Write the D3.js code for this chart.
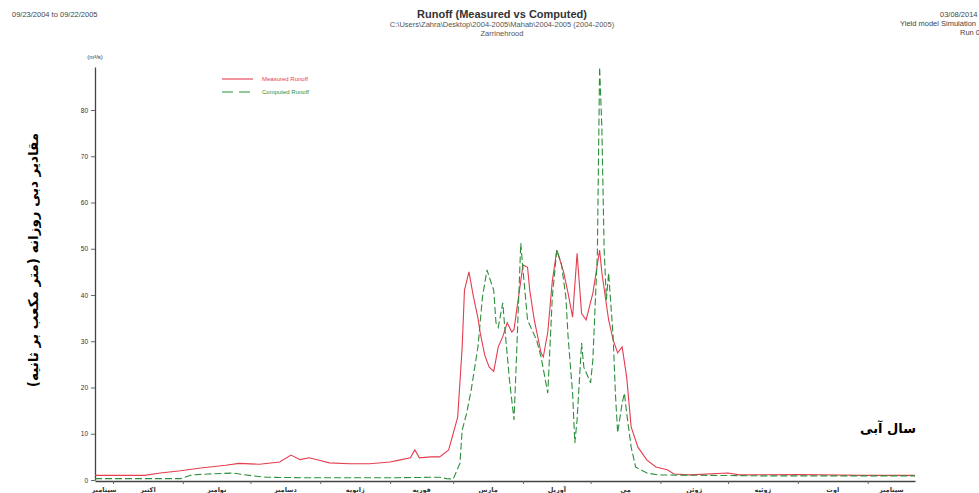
<!DOCTYPE html>
<html>
<head>
<meta charset="utf-8">
<script src="https://cdn.jsdelivr.net/npm/d3@7"></script>
<style>
  body { margin: 0; background: #fff; overflow: hidden; }
  text { font-family: "Liberation Sans", Arial, sans-serif; }
  .fa { font-family: "DejaVu Sans", sans-serif; }
</style>
</head>
<body>
<div id="chart"></div>
<script>
// measured runoff (m3/s)
const measuredDates = ["2004-09-23","2004-10-15","2004-10-22","2004-10-31","2004-11-09","2004-11-20","2004-11-26","2004-12-05","2004-12-14","2004-12-19","2004-12-23","2004-12-27","2005-01-01","2005-01-05","2005-01-14","2005-01-23","2005-02-01","2005-02-05","2005-02-10","2005-02-12","2005-02-14","2005-02-19","2005-02-23","2005-02-27","2005-03-03","2005-03-05","2005-03-06","2005-03-08","2005-03-10","2005-03-12","2005-03-13","2005-03-15","2005-03-17","2005-03-19","2005-03-21","2005-03-23","2005-03-25","2005-03-27","2005-03-28","2005-03-30","2005-04-01","2005-04-03","2005-04-04","2005-04-06","2005-04-09","2005-04-10","2005-04-12","2005-04-14","2005-04-16","2005-04-19","2005-04-21","2005-04-23","2005-04-25","2005-04-27","2005-04-29","2005-05-02","2005-05-05","2005-05-06","2005-05-09","2005-05-11","2005-05-13","2005-05-15","2005-05-17","2005-05-19","2005-05-22","2005-05-26","2005-05-30","2005-06-04","2005-06-07","2005-06-14","2005-07-01","2005-07-06","2005-08-02","2005-08-29","2005-09-22"];
const measuredFlow = [1.0,1.0,1.5,2.0,2.6,3.2,3.6,3.4,3.9,5.4,4.4,4.8,4.2,3.7,3.5,3.5,3.9,4.3,4.8,6.5,4.8,5.0,5.0,6.5,13.6,28.8,41,45,39.6,35,31.8,27,24.4,23.5,28.8,31,34,32,32.5,39.6,46.5,46,41,34.6,27.5,26.6,32,43,49.7,45,40.4,35.2,49,36,34.6,40.4,49.7,44.8,34.6,30.3,27.5,28.8,22.3,11.5,7.1,4.3,2.8,2.2,1.3,1.1,1.5,1.1,1.2,1.0,1.0];

// computed runoff (m3/s)
const computedDates = ["2004-09-23","2004-10-31","2004-11-05","2004-11-12","2004-11-23","2004-12-02","2004-12-08","2004-12-23","2005-02-05","2005-02-23","2005-02-26","2005-03-01","2005-03-04","2005-03-05","2005-03-07","2005-03-09","2005-03-12","2005-03-14","2005-03-16","2005-03-19","2005-03-20","2005-03-21","2005-03-23","2005-03-24","2005-03-26","2005-03-28","2005-03-29","2005-03-31","2005-04-01","2005-04-03","2005-04-05","2005-04-07","2005-04-09","2005-04-12","2005-04-14","2005-04-16","2005-04-18","2005-04-20","2005-04-21","2005-04-23","2005-04-24","2005-04-25","2005-04-27","2005-04-28","2005-05-01","2005-05-02","2005-05-04","2005-05-05","2005-05-06","2005-05-07","2005-05-08","2005-05-09","2005-05-11","2005-05-12","2005-05-13","2005-05-15","2005-05-16","2005-05-17","2005-05-19","2005-05-21","2005-05-26","2005-05-31","2005-07-15","2005-09-22"];
const computedFlow = [0.3,0.3,1.1,1.3,1.5,0.9,0.6,0.5,0.5,0.6,0.3,0.2,3.6,10.8,14.5,19.5,28.8,39.6,45.4,41,34,33,38.3,32.4,21.6,13,25.3,51.2,45.4,34.6,32.4,30.3,26.6,18.8,39.6,49.7,46.9,39.6,31,18.8,8,13,29.6,24.4,21,26,49,89.3,76,50,39,44.8,31,18.8,10.2,16.6,18.8,14.5,7.1,2.8,1.5,1.1,0.9,0.9];

const monthStarts = ["2004-10-01","2004-11-01","2004-12-01","2005-01-01","2005-02-01","2005-03-01","2005-04-01","2005-05-01","2005-06-01","2005-07-01","2005-08-01","2005-09-01"];
const monthLabels = ["سپتامبر","اکتبر","نوامبر","دسامبر","ژانویه","فوریه","مارس","آوریل","می","ژوئن","ژوئیه","اوت","سپتامبر"];
const yTicks = [0,10,20,30,40,50,60,70,80];

const width = 979, height = 493;
const parseDate = d3.timeParse("%Y-%m-%d");
const start = parseDate("2004-09-23"), end = parseDate("2005-09-22");

const svg = d3.select("#chart").append("svg")
    .attr("width", width).attr("height", height);

const x = d3.scaleTime().domain([start, end]).range([95, 915]);
const y = d3.scaleLinear().domain([0, 89.3]).range([480, 67]);

// header texts
svg.append("text").attr("x", 12).attr("y", 17).text("09/23/2004 to 09/22/2005")
    .style("font-size", "7.5px").attr("fill", "#444");
svg.append("text").attr("x", 502).attr("y", 18).attr("text-anchor", "middle")
    .text("Runoff (Measured vs Computed)").style("font-size", "11px").style("font-weight", "bold").attr("fill", "#333");
svg.append("text").attr("x", 502).attr("y", 27).attr("text-anchor", "middle")
    .text("C:\\Users\\Zahra\\Desktop\\2004-2005\\Mahab\\2004-2005 (2004-2005)").style("font-size", "7.5px").attr("fill", "#555");
svg.append("text").attr("x", 502).attr("y", 36).attr("text-anchor", "middle")
    .text("Zarrinehrood").style("font-size", "7.5px").attr("fill", "#555");
svg.append("text").attr("x", 940).attr("y", 17).text("03/08/2014")
    .style("font-size", "7.5px").attr("fill", "#444");
svg.append("text").attr("x", 900).attr("y", 26).text("Yield model Simulation")
    .style("font-size", "7.5px").attr("fill", "#444");
svg.append("text").attr("x", 960).attr("y", 35).text("Run 0")
    .style("font-size", "7.5px").attr("fill", "#444");

// axes
const yAxis = svg.append("g")
    .attr("transform", "translate(95,0)")
    .call(d3.axisLeft(y).tickValues(yTicks).tickSize(4).tickSizeOuter(0));
yAxis.select(".domain").attr("stroke", "#444").attr("stroke-width", 1.3);
yAxis.selectAll(".tick line").attr("stroke", "#666");
yAxis.selectAll(".tick text").style("font-size", "6.5px").attr("fill", "#333");

const xAxis = svg.append("g")
    .attr("transform", "translate(0,481)")
    .call(d3.axisBottom(x).tickValues(monthStarts.map(parseDate)).tickFormat("").tickSize(3).tickSizeOuter(0));
xAxis.select(".domain").attr("stroke", "#444").attr("stroke-width", 1.3);
xAxis.selectAll(".tick line").attr("stroke", "#666");

svg.append("text").attr("x", 95).attr("y", 59).attr("text-anchor", "middle")
    .text("(m³/s)").style("font-size", "6px").attr("fill", "#333");

// month labels centred in each month
const bounds = [start].concat(monthStarts.map(parseDate), [end]);
monthLabels.forEach((m, i) => {
    const mid = new Date((bounds[i].getTime() + bounds[i + 1].getTime()) / 2);
    svg.append("text").attr("class", "fa")
        .attr("x", x(mid)).attr("y", 492).attr("text-anchor", "middle")
        .text(m).style("font-size", "6.5px").style("font-weight", "bold").attr("fill", "#333");
});

// lines
const measured = measuredDates.map((d, i) => ({date: parseDate(d), v: measuredFlow[i]}));
const computed = computedDates.map((d, i) => ({date: parseDate(d), v: computedFlow[i]}));
const line = d3.line().x(d => x(d.date)).y(d => y(d.v));

svg.append("path").datum(measured)
    .attr("fill", "none").attr("stroke", "#e43d4f").attr("stroke-width", 1.1)
    .attr("d", line);
svg.append("path").datum(computed)
    .attr("fill", "none").attr("stroke", "#2c8f3c").attr("stroke-width", 1.1)
    .attr("stroke-dasharray", "7,3")
    .attr("d", line);

// legend
svg.append("line").attr("x1", 222).attr("x2", 253).attr("y1", 79).attr("y2", 79)
    .attr("stroke", "#e43d4f").attr("stroke-width", 1.1);
svg.append("text").attr("x", 262).attr("y", 81).text("Measured Runoff")
    .style("font-size", "6px").attr("fill", "#e43d4f");
svg.append("line").attr("x1", 222).attr("x2", 253).attr("y1", 92).attr("y2", 92)
    .attr("stroke", "#2c8f3c").attr("stroke-width", 1.1).attr("stroke-dasharray", "11,6");
svg.append("text").attr("x", 262).attr("y", 94).text("Computed Runoff")
    .style("font-size", "6px").attr("fill", "#2c8f3c");

// Persian axis titles
svg.append("text").attr("class", "fa")
    .attr("transform", "translate(38,260) rotate(-90)")
    .attr("text-anchor", "middle")
    .text("مقادیر دبی روزانه (متر مکعب بر ثانیه)")
    .style("font-size", "13.5px").style("font-weight", "bold").attr("fill", "#000");
svg.append("text").attr("class", "fa")
    .attr("x", 888).attr("y", 433).attr("text-anchor", "middle")
    .text("سال آبی")
    .style("font-size", "13px").style("font-weight", "bold").attr("fill", "#000");
</script>
</body>
</html>
